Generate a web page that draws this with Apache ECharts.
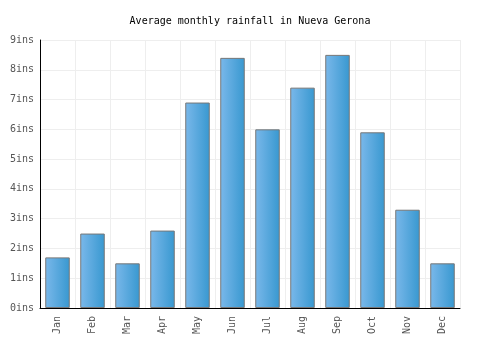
<!DOCTYPE html>
<html><head><meta charset="utf-8">
<script src="https://cdn.jsdelivr.net/npm/echarts@6/dist/echarts.min.js"></script>
<style>html,body{margin:0;padding:0;background:#fff}#c{width:500px;height:350px}</style>
</head><body><div id="c"></div>
<script>
const months = ["Jan","Feb","Mar","Apr","May","Jun","Jul","Aug","Sep","Oct","Nov","Dec"];
const rainfall = [1.7,2.5,1.5,2.6,6.9,8.4,6.0,7.4,8.5,5.9,3.3,1.5];
const titleText = "Average monthly rainfall in Nueva Gerona";
const unit = "ins";
const font = "DejaVu Sans Mono";
const chart = echarts.init(document.getElementById('c'), null, {renderer:'canvas'});
chart.setOption({
  animation:false,
  title:{text:titleText,left:'center',top:11,textStyle:{fontFamily:font,fontSize:10,fontWeight:'normal',color:'#000'}},
  grid:{left:40,right:40,top:40,bottom:42,containLabel:false},
  xAxis:{type:'category',data:months,
    axisLine:{lineStyle:{color:'#000'}},axisTick:{show:false},
    splitLine:{show:true,lineStyle:{color:'#eee'}},
    axisLabel:{rotate:90,fontFamily:font,fontSize:10,color:'#555',margin:8}},
  yAxis:{type:'value',min:0,max:9,interval:1,
    axisLine:{show:true,lineStyle:{color:'#000'}},axisTick:{show:false},
    splitLine:{lineStyle:{color:'#eee'}},
    axisLabel:{formatter:v=>v+unit,fontFamily:font,fontSize:10,color:'#555',margin:6}},
  series:[{type:'bar',data:rainfall,barCategoryGap:'30%',
    itemStyle:{borderColor:'#777',borderWidth:1,
      color:new echarts.graphic.LinearGradient(0,0,1,0,[{offset:0,color:'#7ab8ea'},{offset:1,color:'#3898d0'}])}}]
});
</script></body></html>
